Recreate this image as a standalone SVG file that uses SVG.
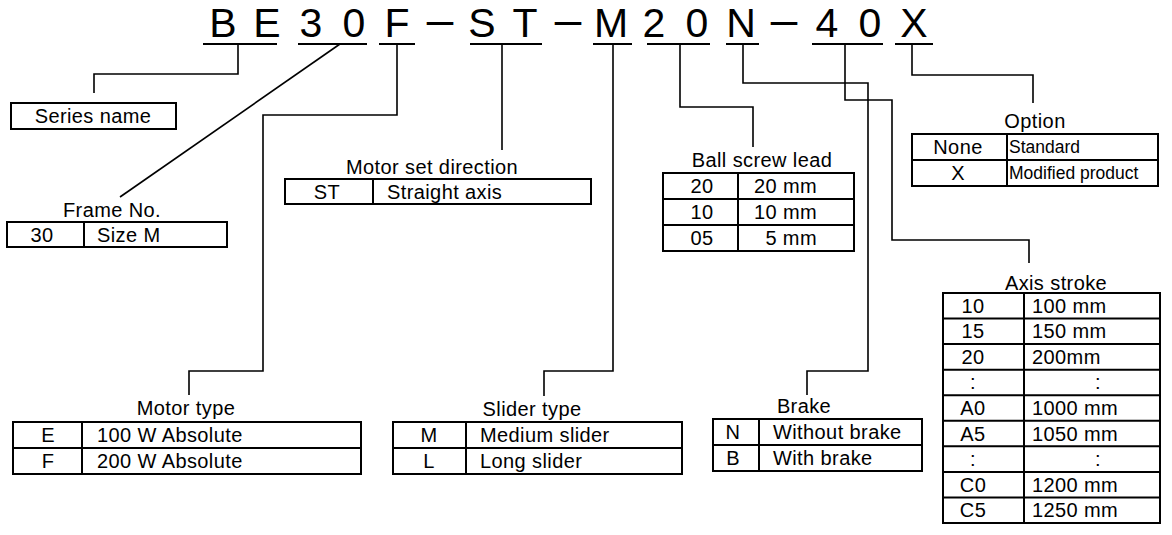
<svg xmlns="http://www.w3.org/2000/svg" width="1172" height="535" viewBox="0 0 1172 535">
<style>
text{font-family:"Liberation Sans",Arial,sans-serif;fill:#000}
.t{font-size:20px;letter-spacing:0.4px}
.s{font-size:17.5px}
.c{text-anchor:middle}
.e{text-anchor:end}
.h{font-size:41px;text-anchor:middle}
.box{fill:#fff;stroke:#000;stroke-width:2}
.ln{stroke:#000;stroke-width:2;fill:none}
.cn{stroke:#000;stroke-width:1.6;fill:none}
</style>
<rect width="1172" height="535" fill="#fff"/>
<g id="code">
<text class="h" y="37"><tspan x="223 267 311 354 397">BE30F</tspan><tspan x="440" textLength="32" lengthAdjust="spacingAndGlyphs">−</tspan><tspan x="482 525">ST</tspan><tspan x="568" textLength="32" lengthAdjust="spacingAndGlyphs">−</tspan><tspan x="611 654 697 741">M20N</tspan><tspan x="784" textLength="32" lengthAdjust="spacingAndGlyphs">−</tspan><tspan x="827 870 914">40X</tspan></text>
</g>
<g id="connectors">
<path class="ln" d="M203 44H277M298 44H367M379 44H415M470 44H542M593 44H632M647 44H710M726 44H759M812 44H883M895 44H933"/>
<path class="cn" d="M238 44V74H94V93"/>
<path class="cn" d="M340 44L120 197"/>
<path class="cn" d="M397 44V115H263V371H189V395"/>
<path class="cn" d="M502 44V150"/>
<path class="cn" d="M613 44V371H544V396"/>
<path class="cn" d="M680 44V107H753V147"/>
<path class="cn" d="M743 44V83H868V371H807V395"/>
<path class="cn" d="M845 44V100H892V240H1029V263"/>
<path class="cn" d="M912 44V75H1033V103"/>
</g>
<g id="series">
<rect class="box" x="11" y="103" width="165" height="26"/>
<text class="t c" x="93" y="123">Series name</text>
</g>
<g id="frame">
<text class="t c" x="112" y="217">Frame No.</text>
<rect class="box" x="7" y="222" width="220" height="25"/>
<path class="ln" d="M84 222V247"/>
<text class="t c" x="42" y="242">30</text>
<text class="t" x="97" y="242">Size M</text>
</g>
<g id="motorset">
<text class="t c" x="432" y="174">Motor set direction</text>
<rect class="box" x="285" y="179" width="306" height="25"/>
<path class="ln" d="M373 179V204"/>
<text class="t c" x="327" y="199">ST</text>
<text class="t" x="387" y="199">Straight axis</text>
</g>
<g id="ballscrew">
<text class="t c" x="762" y="167">Ball screw lead</text>
<rect class="box" x="663" y="173" width="191" height="78"/>
<path class="ln" d="M663 199H854M663 225H854M738 173V251"/>
<text class="t c" x="702" y="193">20</text>
<text class="t e" x="817" y="193">20 mm</text>
<text class="t c" x="702" y="219">10</text>
<text class="t e" x="817" y="219">10 mm</text>
<text class="t c" x="702" y="245">05</text>
<text class="t e" x="817" y="245">5 mm</text>
</g>
<g id="option">
<text class="t c" x="1035" y="128">Option</text>
<rect class="box" x="912" y="134" width="246" height="52"/>
<path class="ln" d="M912 160H1158M1007 134V186"/>
<text class="t c" x="958" y="154">None</text>
<text class="s" x="1009" y="153">Standard</text>
<text class="t c" x="958" y="180">X</text>
<text class="s" x="1009" y="179">Modified product</text>
</g>
<g id="axisstroke">
<text class="t c" x="1056" y="290">Axis stroke</text>
<rect class="box" x="943" y="293" width="217" height="230"/>
<path class="ln" d="M943 318.6H1160M943 344.1H1160M943 369.7H1160M943 395.2H1160M943 420.8H1160M943 446.3H1160M943 471.9H1160M943 497.4H1160M1024 293V523"/>
<text class="t c" x="973" y="312.8">10</text><text class="t" x="1032" y="312.8">100 mm</text>
<text class="t c" x="973" y="338.3">15</text><text class="t" x="1032" y="338.3">150 mm</text>
<text class="t c" x="973" y="363.9">20</text><text class="t" x="1032" y="363.9">200mm</text>
<text class="t c" x="973" y="389.4">:</text><text class="t c" x="1098" y="389.4">:</text>
<text class="t c" x="973" y="415">A0</text><text class="t" x="1032" y="415">1000 mm</text>
<text class="t c" x="973" y="440.6">A5</text><text class="t" x="1032" y="440.6">1050 mm</text>
<text class="t c" x="973" y="466.1">:</text><text class="t c" x="1098" y="466.1">:</text>
<text class="t c" x="973" y="491.7">C0</text><text class="t" x="1032" y="491.7">1200 mm</text>
<text class="t c" x="973" y="517.2">C5</text><text class="t" x="1032" y="517.2">1250 mm</text>
</g>
<g id="motortype">
<text class="t c" x="186" y="415">Motor type</text>
<rect class="box" x="13" y="422" width="348" height="52"/>
<path class="ln" d="M13 448H361M82 422V474"/>
<text class="t c" x="48" y="442">E</text>
<text class="t" x="97" y="442">100 W Absolute</text>
<text class="t c" x="48" y="468">F</text>
<text class="t" x="97" y="468">200 W Absolute</text>
</g>
<g id="slidertype">
<text class="t c" x="532" y="416">Slider type</text>
<rect class="box" x="393" y="422" width="289" height="52"/>
<path class="ln" d="M393 448H682M466 422V474"/>
<text class="t c" x="429" y="442">M</text>
<text class="t" x="480" y="442">Medium slider</text>
<text class="t c" x="429" y="468">L</text>
<text class="t" x="480" y="468">Long slider</text>
</g>
<g id="brake">
<text class="t c" x="804" y="413">Brake</text>
<rect class="box" x="713" y="419" width="209" height="52"/>
<path class="ln" d="M713 445H922M759 419V471"/>
<text class="t c" x="733" y="439">N</text>
<text class="t" x="773" y="439">Without brake</text>
<text class="t c" x="733" y="465">B</text>
<text class="t" x="773" y="465">With brake</text>
</g>
</svg>
